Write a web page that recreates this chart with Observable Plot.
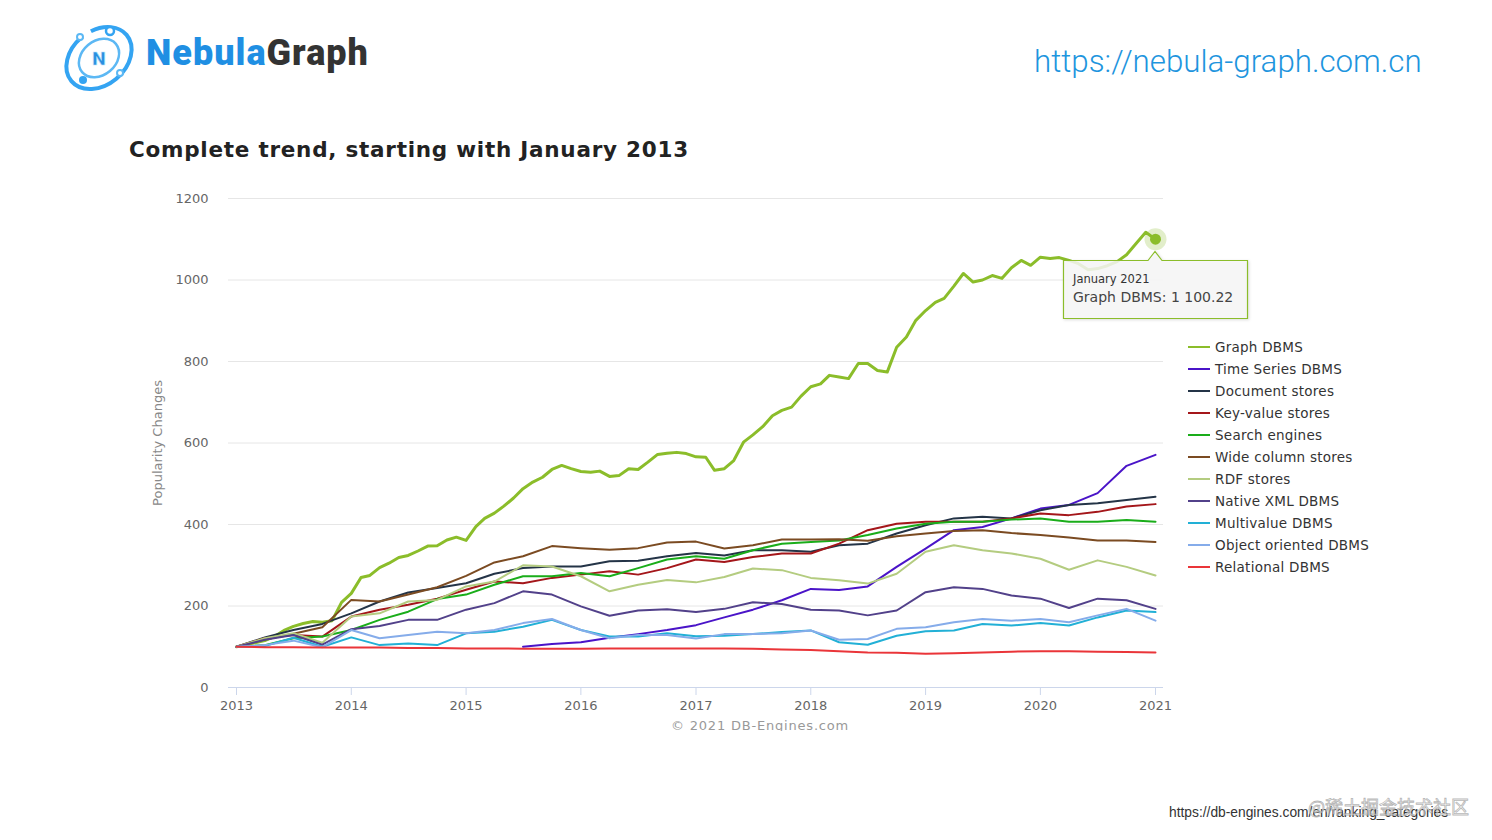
<!DOCTYPE html>
<html>
<head>
<meta charset="utf-8">
<script src="https://cdn.jsdelivr.net/npm/d3@7"></script>
<script src="https://cdn.jsdelivr.net/npm/@observablehq/plot@0.6"></script>
<style>
  html, body { margin: 0; padding: 0; background: #fff; }
  body { width: 1492px; height: 840px; position: relative; overflow: hidden; font-family: "DejaVu Sans", sans-serif; }
  #chart { position: absolute; left: 0; top: 0; }
  .abs { position: absolute; white-space: nowrap; }
  #brand { left: 146px; top: 32px; font-family: Roboto, sans-serif; font-weight: 900; font-size: 36px; letter-spacing: 1px; }
  #brand .b1 { color: #1f8fe3; }
  #brand .b2 { color: #333; }
  #url { left: 1034px; top: 43px; font-family: Roboto, sans-serif; font-weight: 300; font-size: 31.3px; color: #1e95de; }
  #title { left: 129px; top: 137px; font-family: "DejaVu Sans", sans-serif; font-weight: 700; font-size: 21.5px; color: #222; letter-spacing: 0.75px; }
  #legend { left: 1188px; top: 336px; font-size: 13.5px; letter-spacing: 0.25px; color: #333; }
  #legend .item { height: 22px; line-height: 22px; }
  #legend .sw { display: inline-block; width: 22px; height: 2px; vertical-align: middle; margin-right: 5px; position: relative; top: -1px; }
  #credits { left: 0; top: 716px; width: 1520px; height: 15px; overflow: hidden; text-align: center; font-size: 13px; line-height: 20px; color: #999; letter-spacing: 0.8px; }
  #src { left: 1169px; top: 805px; font-family: "Liberation Sans", Arial, sans-serif; font-size: 13.8px; color: #333; }
  #wm { left: 1308px; top: 793px; font-family: "Noto Sans CJK SC", sans-serif; font-size: 18px; color: rgba(255,255,255,0.6); -webkit-text-stroke: 0.8px rgba(150,150,150,0.7); }
  #tip { position: absolute; filter: drop-shadow(1px 1px 1.5px rgba(0,0,0,0.15)); }
  .tiptext { position: absolute; white-space: nowrap; }
</style>
</head>
<body>
<svg class="abs" style="left:60px;top:20px" width="80" height="76" viewBox="0 0 80 76">
  <ellipse cx="39" cy="38" rx="36" ry="27" transform="rotate(-40 39 38)" fill="none" stroke="#34a4f2" stroke-width="4" stroke-dasharray="150 10 40 12"/>
  <ellipse cx="39" cy="38" rx="22" ry="17" transform="rotate(-40 39 38)" fill="none" stroke="#5cb8f4" stroke-width="2.5"/>
  <circle cx="50" cy="11" r="4" fill="#fff" stroke="#34a4f2" stroke-width="2.5"/>
  <circle cx="20" cy="17" r="3" fill="#fff" stroke="#5cb8f4" stroke-width="2"/>
  <circle cx="60" cy="53" r="3" fill="#fff" stroke="#5cb8f4" stroke-width="2"/>
  <circle cx="23" cy="60" r="4" fill="#34a4f2"/>
  <text x="39" y="45" text-anchor="middle" font-family="Roboto" font-weight="900" font-size="19" fill="#2a8fe0" stroke="#bfe2fb" stroke-width="0.6">N</text>
</svg>
<div id="brand" class="abs"><span class="b1">Nebula</span><span class="b2">Graph</span></div>
<div id="url" class="abs">https://nebula-graph.com.cn</div>
<div id="title" class="abs">Complete trend, starting with January 2013</div>
<div id="chart"></div>
<div id="legend" class="abs"></div>
<div id="credits" class="abs">© 2021 DB-Engines.com</div>
<div id="src" class="abs">https://db-engines.com/en/ranking_categories</div>
<div id="wm" class="abs">@稀土掘金技术社区</div>
<script>
// Quarterly sample dates (Jan/Apr/Jul/Oct) for most series
const dates = [
  "2013-01","2013-04","2013-07","2013-10","2014-01","2014-04","2014-07","2014-10",
  "2015-01","2015-04","2015-07","2015-10","2016-01","2016-04","2016-07","2016-10",
  "2017-01","2017-04","2017-07","2017-10","2018-01","2018-04","2018-07","2018-10",
  "2019-01","2019-04","2019-07","2019-10","2020-01","2020-04","2020-07","2020-10",
  "2021-01"
];
const seriesNames = [
  "Graph DBMS","Time Series DBMS","Document stores","Key-value stores","Search engines",
  "Wide column stores","RDF stores","Native XML DBMS","Multivalue DBMS","Object oriented DBMS","Relational DBMS"
];
const seriesColors = [
  "#8bbd2a","#4a14c8","#243447","#a4161a","#1aad1a",
  "#7b4b22","#b4cc80","#52418a","#22b0d6","#85acea","#ea3539"
];
// Graph DBMS: monthly, Jan 2013 .. Jan 2021
const graphDBMSMonthly = [
  100,104,110,115,125,140,150,157,162,160,164,209,
  231,270,275,294,305,319,324,335,347,348,362,369,
  361,395,415,428,445,465,488,504,516,535,545,537,
  530,528,531,518,520,537,535,553,572,575,577,574,
  566,565,533,537,557,602,620,640,667,680,688,715,
  738,745,766,762,758,795,795,778,774,835,860,901,
  925,945,955,985,1016,995,1000,1011,1004,1030,1048,1036,
  1056,1053,1055,1048,1040,1025,1028,1035,1045,1062,1090,1117,
  1100.22
];
const timeSeriesDBMS = [null,null,null,null,null,null,null,null,null,null,100,107,111,122,131,141,153,172,191,214,242,239,248,296,341,386,394,415,439,448,477,544,571];
const documentStores = [100,123,141,156,182,211,233,244,256,279,293,297,297,310,311,322,330,324,337,337,333,349,353,378,398,415,419,415,435,448,452,460,468];
const keyValueStores = [100,121,129,125,174,191,203,218,240,260,256,269,277,285,277,293,314,308,320,329,329,353,386,402,407,407,407,415,427,423,431,444,450];
const searchEngines = [100,104,121,125,141,166,186,217,228,252,273,273,281,273,293,314,322,316,337,353,357,361,374,390,402,407,407,412,415,407,407,411,407];
const wideColumnStores = [100,118,132,148,215,211,228,246,274,307,322,347,342,338,342,356,358,341,349,363,363,364,360,371,378,384,386,379,374,368,361,361,357];
const rdfStores = [100,121,133,110,174,182,211,215,248,260,300,297,273,236,252,264,258,271,292,288,269,263,255,279,333,349,337,329,316,289,312,296,275];
const nativeXML = [100,117,129,105,143,151,166,166,191,207,236,228,199,176,189,192,185,193,209,205,191,189,177,189,234,246,242,226,218,195,218,214,193];
const multivalueDBMS = [100,102,122,100,123,104,108,104,133,137,149,166,141,125,125,133,126,127,131,136,140,111,105,127,138,140,156,152,158,152,172,189,185];
const objectOriented = [100,104,115,99,141,121,129,137,133,141,158,168,141,121,129,129,120,131,131,133,140,117,119,144,148,160,168,164,168,160,177,193,164];
const relationalDBMS = [100,99,99,98,98,98,97,97,96,96,95,95,95,96,96,96,96,96,95,93,92,89,86,85,83,84,86,88,89,89,88,87,86];
const quarterlySeries = [timeSeriesDBMS,documentStores,keyValueStores,searchEngines,wideColumnStores,rdfStores,nativeXML,multivalueDBMS,objectOriented,relationalDBMS];
const yTicks = [0,200,400,600,800,1000,1200];
const yearTicks = ["2013","2014","2015","2016","2017","2018","2019","2020","2021"];
const yTitle = "Popularity Changes";
const tipDateLabel = "January 2021";

const parse = s => { const [y, m] = s.split("-").map(Number); return new Date(Date.UTC(y, m - 1, 1)); };
const monthDates = d3.utcMonth.range(parse("2013-01"), d3.utcMonth.offset(parse("2021-01"), 1));

const graphRows = graphDBMSMonthly.map((v, i) => ({series: seriesNames[0], date: monthDates[i], value: v}));
const otherRows = [];
seriesNames.slice(1).forEach((name, si) => {
  quarterlySeries[si].forEach((v, i) => { if (v != null) otherRows.push({series: name, date: parse(dates[i]), value: v}); });
});
const lastGraph = graphRows[graphRows.length - 1];

const plot = Plot.plot({
  width: 1492, height: 740,
  marginLeft: 228, marginRight: 329, marginTop: 198, marginBottom: 53,
  style: {fontFamily: "DejaVu Sans", fontSize: "13px", background: "transparent", overflow: "visible"},
  x: {type: "utc", domain: [parse("2013-01"), parse("2021-01")], insetLeft: 8, insetRight: 8},
  y: {domain: [0, 1200]},
  color: {domain: seriesNames, range: seriesColors},
  marks: [
    Plot.ruleY(yTicks.filter(d => d > 0), {stroke: "#e6e6e6", strokeWidth: 1}),
    Plot.ruleY([0], {stroke: "#ccd6eb", strokeWidth: 1}),
    Plot.axisY({ticks: yTicks, tickSize: 0, tickPadding: 20, tickFormat: d => String(d), label: null, color: "#666", fontSize: 13}),
    Plot.axisX({ticks: yearTicks.map(y => parse(y + "-01")), tickFormat: "%Y", tickSize: 8, tickPadding: 5, label: null, stroke: "#ccd6eb", fill: "#666", fontSize: 13}),
    Plot.text([yTitle], {frameAnchor: "left", dx: -71, rotate: -90, textAnchor: "middle", fill: "#888", fontSize: 13}),
    Plot.line(graphRows, {x: "date", y: "value", z: "series", stroke: "series", strokeWidth: 3, strokeLinejoin: "round"}),
    Plot.line(otherRows, {x: "date", y: "value", z: "series", stroke: "series", strokeWidth: 2, strokeLinejoin: "round"}),
    Plot.dot([lastGraph], {x: "date", y: "value", r: 11, fill: seriesColors[0], fillOpacity: 0.25}),
    Plot.dot([lastGraph], {x: "date", y: "value", r: 5.5, fill: seriesColors[0]})
  ]
});
document.getElementById("chart").appendChild(plot);

// Legend
const legendBox = document.getElementById("legend");
seriesNames.forEach((n, i) => {
  const it = document.createElement("div");
  it.className = "item";
  it.innerHTML = `<span class="sw" style="background:${seriesColors[i]}"></span>${n}`;
  legendBox.appendChild(it);
});

// Tooltip anchored at the last Graph DBMS point
const px = plot.scale("x").apply(lastGraph.date);
const py = plot.scale("y").apply(lastGraph.value);
const tipW = 185, tipH = 58, tipLeft = px - 92, tipTop = py + 21;
const tip = document.createElementNS("http://www.w3.org/2000/svg", "svg");
tip.setAttribute("id", "tip");
tip.setAttribute("width", tipW + 4);
tip.setAttribute("height", tipH + 16);
tip.style.left = (tipLeft - 1) + "px";
tip.style.top = (tipTop - 11) + "px";
const ax = px - tipLeft + 1;
tip.innerHTML = `<path d="M1.5,11.5 H${ax - 7} L${ax},2.5 L${ax + 7},11.5 H${tipW + 0.5} V${tipH + 11.5} H1.5 Z" fill="rgba(249,249,249,0.85)" stroke="${seriesColors[0]}" stroke-width="1.2"/>`;
document.body.appendChild(tip);
const t1 = document.createElement("div");
t1.className = "tiptext";
t1.style.cssText = `left:${tipLeft + 10}px;top:${tipTop + 12}px;font-size:11.5px;color:#333;`;
t1.textContent = tipDateLabel;
document.body.appendChild(t1);
const t2 = document.createElement("div");
t2.className = "tiptext";
t2.style.cssText = `left:${tipLeft + 10}px;top:${tipTop + 29}px;font-size:14px;color:#444;`;
t2.textContent = `${lastGraph.series}: ${d3.format(",.2f")(lastGraph.value).replace(",", " ")}`;
document.body.appendChild(t2);
</script>
</body>
</html>
